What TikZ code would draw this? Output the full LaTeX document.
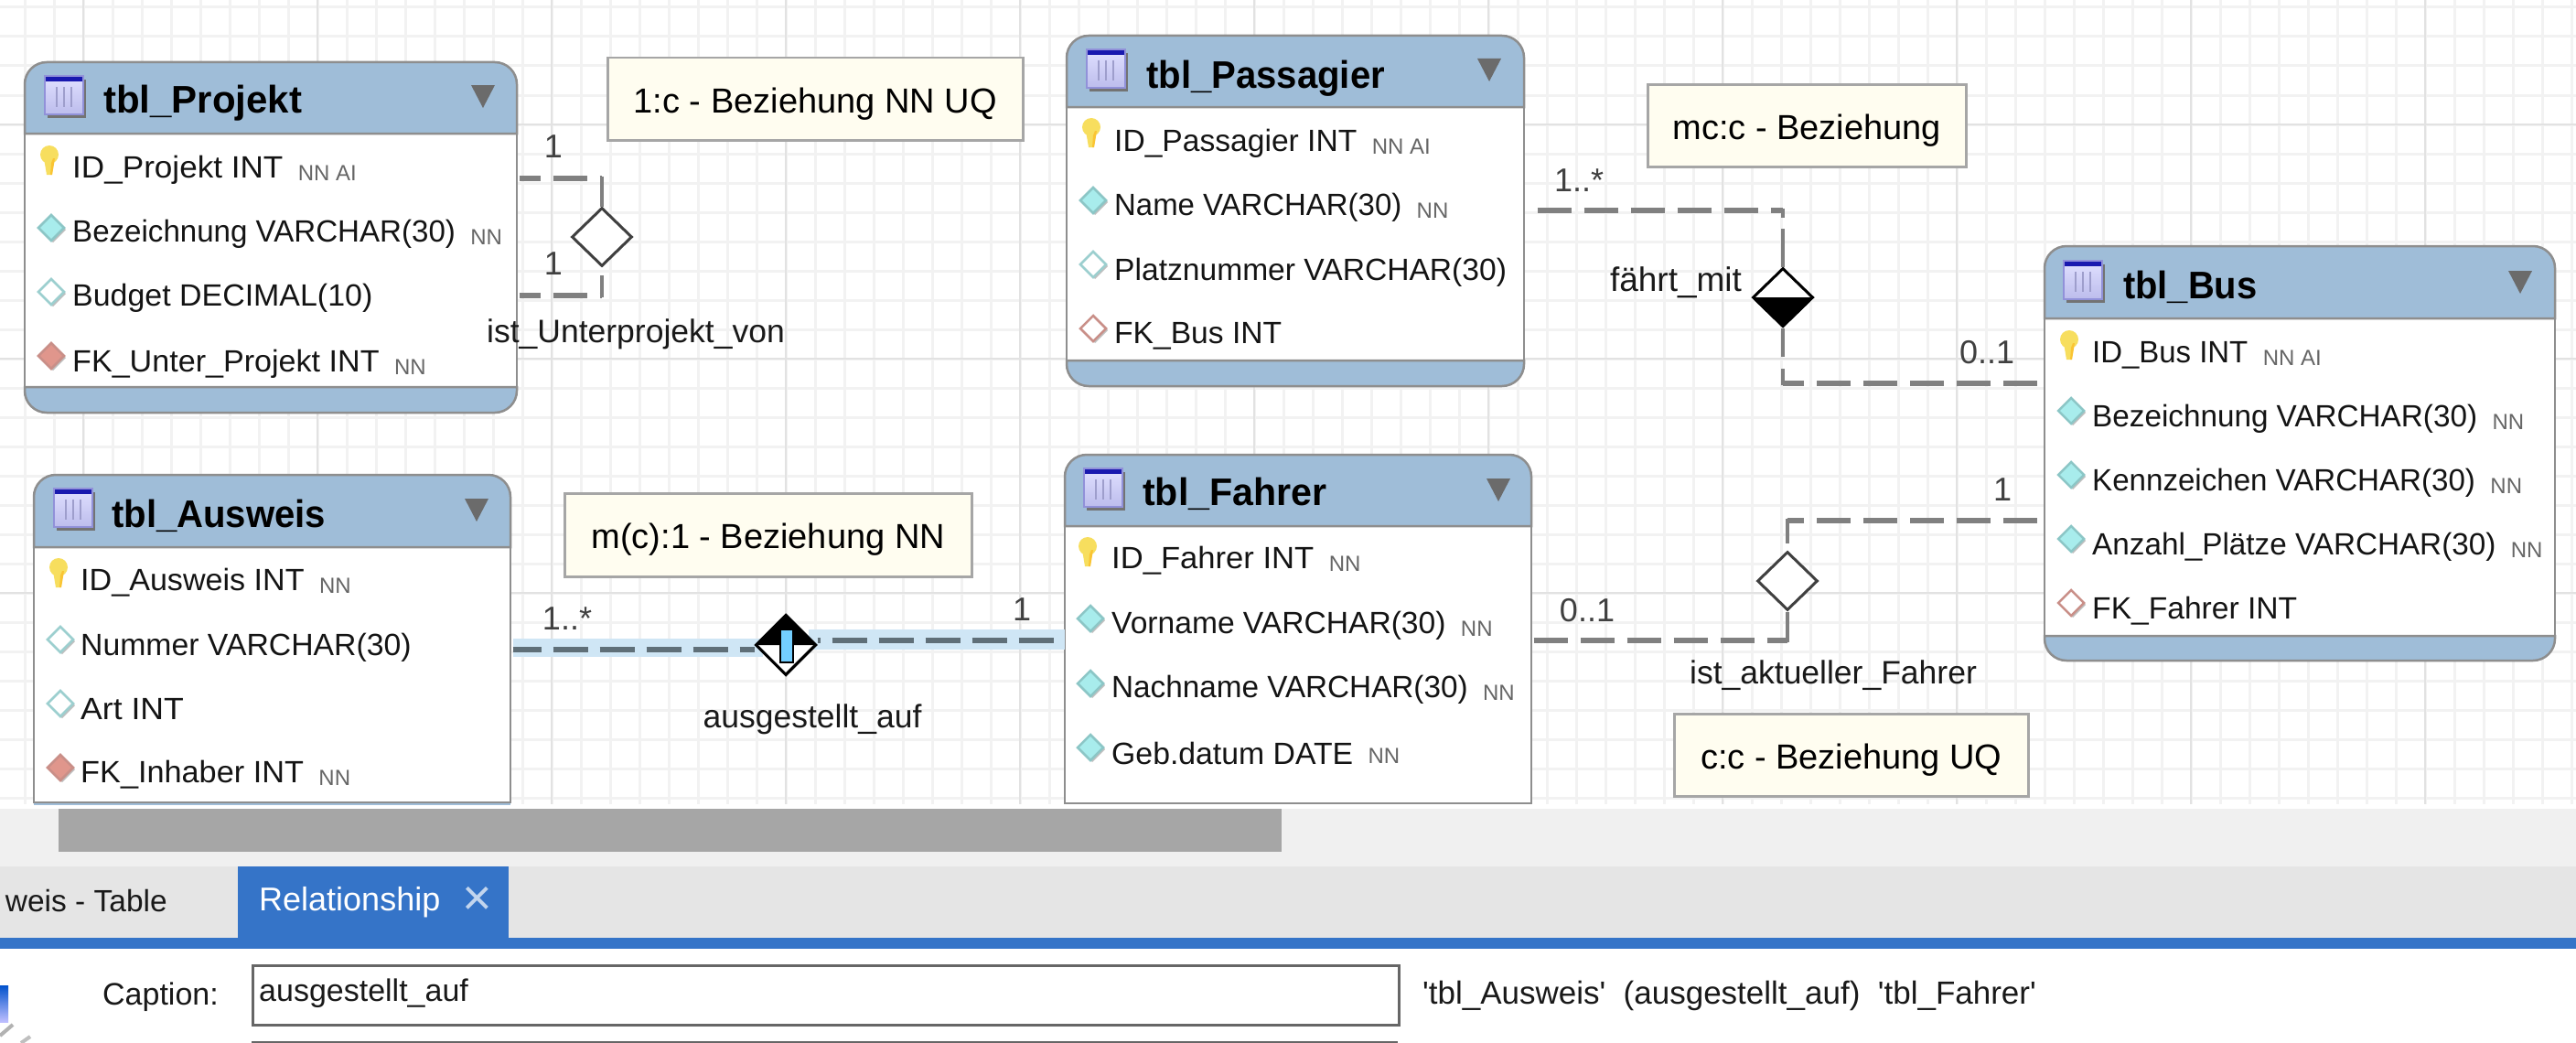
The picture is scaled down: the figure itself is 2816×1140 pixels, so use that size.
\documentclass[tikz,border=0pt]{standalone}
\usepackage{fontspec}
\setmainfont{Liberation Sans}
\newfontfamily\plainf{Liberation Sans}
\usetikzlibrary{shapes.geometric,calc}
\definecolor{hdr}{HTML}{9FBDD8}
\definecolor{edgeg}{HTML}{8E8E8E}
\definecolor{gridm}{HTML}{F2F2F2}
\definecolor{gridM}{HTML}{E2E2E2}
\definecolor{notef}{HTML}{FFFDF0}
\definecolor{relg}{HTML}{808080}
\definecolor{tabblue}{HTML}{3574C8}
\definecolor{selband}{HTML}{CFE6F5}
\definecolor{seldash}{HTML}{5F6F78}
\definecolor{cyanf}{HTML}{A8ECEC}
\definecolor{cyanb}{HTML}{8CC6C6}
\definecolor{cyanh}{HTML}{9CCFCF}
\definecolor{redf}{HTML}{E0968C}
\definecolor{redb}{HTML}{C98F88}
\definecolor{keyf}{HTML}{F7DE5E}
\newcount\rowno
\tikzset{
  x=1pt,y=-1pt,
  tblbox/.style={draw=edgeg,line width=2.5pt,fill=white,rectangle,inner sep=0pt,anchor=north west},
  rowtxt/.style={anchor=west,inner sep=0pt,font=\fontsize{33.6}{36}\selectfont,text=black!92},
  tag/.style={anchor=west,inner sep=0pt,font=\fontsize{24}{26}\selectfont,text=black!60},
  titletxt/.style={anchor=west,inner sep=0pt,font=\fontsize{42}{46}\selectfont\bfseries,text=black},
  notebox/.style={draw=black!35,line width=2.5pt,fill=notef,rectangle,inner sep=0pt,anchor=north west,font=\fontsize{38}{42}\selectfont},
  rellbl/.style={inner sep=0pt,font=\fontsize{35.5}{38}\selectfont,text=black!90},
  card/.style={inner sep=0pt,font=\fontsize{36}{38}\selectfont,text=black!75},
  rel/.style={draw=relg,line width=6pt,dash pattern=on 37pt off 14pt},
  relstub/.style={draw=relg,line width=4.5pt},
  reldia/.style={diamond,aspect=1,draw=black!75,line width=3pt,fill=white,minimum width=66pt,minimum height=64pt,inner sep=0pt},
  uitxt/.style={inner sep=0pt,font=\fontsize{34}{38}\selectfont,text=black!90},
}
\newcommand{\notetxt}[1]{\raisebox{-15pt}[0pt][0pt]{#1}}
\newcommand{\roundtop}[4]{% left top right hbottom
  \path[fill=hdr,draw=edgeg,line width=2.5pt,rounded corners=24pt] (#1,#4) -- (#1,#2) -- (#3,#2) [sharp corners] -- (#3,#4) -- cycle;
}
\newcommand{\roundbot}[4]{% left ftop right bottom
  \path[fill=hdr,draw=edgeg,line width=2.5pt,rounded corners=24pt] (#3,#2) -- (#3,#4) -- (#1,#4) [sharp corners] -- (#1,#2) -- cycle;
}
\newcommand{\tblicon}[4]{% x0 y0 x1 y1
  \fill[black!55] (#1+3,#2+4) rectangle (#3+3,#4+4);
  \shade[top color=white!88!blue,bottom color=white!78!blue!85!gray] (#1,#2) rectangle (#3,#4);
  \foreach \k in {0.3,0.5,0.7} \draw[white!70!blue!60!gray,line width=2pt] ({#1+\k*(#3-#1)},#2+12) -- ({#1+\k*(#3-#1)},#4-8);
  \fill[blue!65!black!90] (#1,#2) rectangle (#3,#2+6);
  \draw[white!60!blue!70!gray,line width=1.2pt] (#1,#2) rectangle (#3,#4);
}
\newcommand{\dropdown}[2]{% cx y0
  \fill[black!58] (#1-13,#2) -- (#1+13,#2) -- (#1,#2+25) -- cycle;
}
\newcommand{\keyicon}[2]{% cx cy
  \fill[keyf] (#1-7,#2-3) -- (#1+5,#2-3) -- (#1+2,#2+15) -- (#1-4,#2+15) -- cycle;
  \fill[keyf] (#1-1,#2-7) circle[radius=10];
  \fill[orange!70!yellow,opacity=.45] (#1+1,#2+2) -- (#1+3,#2-3) -- (#1+5,#2-3) -- (#1+2,#2+15) -- (#1,#2+15) -- cycle;
}
\newcommand{\attr}[4]{% cx cy fill border
  \fill[black!25] (#1+2,#2-16) -- (#1+16,#2-2) -- (#1+2,#2+12) -- (#1-12,#2-2) -- cycle;
  \path[fill=#3,draw=#4,line width=2.5pt] (#1,#2-18) -- (#1+14,#2-4) -- (#1,#2+10) -- (#1-14,#2-4) -- cycle;
}
\newcommand{\rowt}[5][1]{% hscale x y text tag
  \global\advance\rowno by 1
  \node[rowtxt] (row\the\rowno) at (#2,#3+3) {\scalebox{#1}[1]{#4}};
  \if\relax\detokenize{#5}\relax\else
    \node[tag,anchor=west,xshift=16pt,yshift=-3pt] (tag\the\rowno) at (row\the\rowno.east) {#5};
  \fi
}
\newcommand{\ttl}[5]{% name scale x y text
  \node[titletxt] (#1) at (#3,#4+3) {\scalebox{#2}[1]{#5}};
}
\begin{document}
\begin{tikzpicture}
\useasboundingbox (0,0) rectangle (2816,1140);
\fill[white] (0,0) rectangle (2816,1140);
% grid
\foreach \i in {0,...,87} \draw[gridm,line width=3pt] ({27+32*\i},0) -- ({27+32*\i},879);
\foreach \i in {0,...,27} \draw[gridm,line width=3pt] (0,{8+32*\i}) -- (2816,{8+32*\i});
\foreach \i in {0,...,10} \draw[gridM,line width=2pt] ({91+256*\i},0) -- ({91+256*\i},879);
\foreach \i in {0,...,2} \draw[gridM,line width=2pt] (0,{136+256*\i}) -- (2816,{136+256*\i});
% bottom UI
\fill[white] (0,879) rectangle (2816,884);
\fill[black!6] (0,884) rectangle (2816,947);
\fill[black!10] (0,947) rectangle (2816,1025);
\fill[black!35] (64,884) rectangle (1401,931);
\fill[tabblue] (0,1025) rectangle (2816,1037);
\fill[tabblue] (260,947) rectangle (556,1025);
\node[uitxt,anchor=east,font=\fontsize{33.5}{38}\selectfont] (tabwest) at (183,985) {weis - Table};
\node[uitxt,anchor=west,text=white,font=\fontsize{36}{38}\selectfont] (tabrel) at (283,986) {Relationship};
\node[uitxt,text=white!70!tabblue,font=\fontsize{56}{58}\selectfont] (tabx) at (522,985) {×};
\node[uitxt,anchor=east] (capl) at (239,1090) {Caption:};
\node[draw=black!60,line width=2.5pt,fill=white,minimum width=1253pt,minimum height=65pt,inner sep=0pt,anchor=north west] (capbox) at (275,1054) {};
\node[uitxt,anchor=west] (capt) at (283,1086) {ausgestellt\_auf};
\node[uitxt,anchor=west,font=\plainf\fontsize{35}{38}\selectfont] (capr) at (1555,1088) {'tbl\_Ausweis'\ \ (ausgestellt\_auf)\ \ 'tbl\_Fahrer'};
\draw[black!60,line width=2.5pt] (275,1139) -- (1528,1139);
% partial icon
\shade[top color=blue!60!cyan!80!black,bottom color=blue!25!white] (0,1077) rectangle (9,1117);
\draw[black!30,line width=4pt] (0,1132) -- (14,1120);
\draw[black!25,line width=4pt] (23,1140) -- (33,1133);
% notes
\node[notebox,minimum width=454pt,minimum height=90pt] (n1) at (663,62) {\notetxt{1:c - Beziehung NN UQ}};
\node[notebox,minimum width=348pt,minimum height=90pt] (n2) at (1800,91) {\notetxt{mc:c - Beziehung}};
\node[notebox,minimum width=445pt,minimum height=91pt] (n3) at (616,538) {\notetxt{m(c):1 - Beziehung NN}};
\node[notebox,minimum width=387pt,minimum height=90pt] (n4) at (1829,779) {\notetxt{c:c - Beziehung UQ}};
% tables
\node[tblbox,minimum width=538pt,minimum height=383pt,draw=none,fill=none] (projekt) at (27,68) {};
\fill[white,draw=edgeg,line width=2.5pt] (27,146) rectangle (565,423);
\roundtop{27}{68}{565}{146}
\roundbot{27}{423}{565}{451}
\node[tblbox,minimum width=500pt,minimum height=383pt,draw=none,fill=none] (passagier) at (1166,39) {};
\fill[white,draw=edgeg,line width=2.5pt] (1166,117) rectangle (1666,394);
\roundtop{1166}{39}{1666}{117}
\roundbot{1166}{394}{1666}{422}
\node[tblbox,minimum width=558pt,minimum height=453pt,draw=none,fill=none] (bus) at (2235,269) {};
\fill[white,draw=edgeg,line width=2.5pt] (2235,348) rectangle (2793,695);
\roundtop{2235}{269}{2793}{348}
\roundbot{2235}{695}{2793}{722}
\node[tblbox,minimum width=521pt,minimum height=358pt,draw=none,fill=none] (ausweis) at (37,519) {};
\fill[white,draw=edgeg,line width=2.5pt] (37,598) rectangle (558,877);
\roundtop{37}{519}{558}{598}
\fill[hdr] (37,878) rectangle (558,880);
\node[tblbox,minimum width=510pt,minimum height=381pt,draw=none,fill=none] (fahrer) at (1164,497) {};
\fill[white,draw=edgeg,line width=2.5pt] (1164,575) rectangle (1674,878);
\roundtop{1164}{497}{1674}{575}
% headers
\tblicon{49}{83}{91}{125}\dropdown{528}{93}
\ttl{t1}{1}{113}{110}{tbl\_Projekt}
\tblicon{1188}{54}{1230}{96}\dropdown{1628}{64}
\ttl{t2}{.955}{1253}{83}{tbl\_Passagier}
\tblicon{2256}{285}{2298}{327}\dropdown{2755}{296}
\ttl{t3}{.95}{2321}{311}{tbl\_Bus}
\tblicon{59}{534}{101}{576}\dropdown{521}{545}
\ttl{t4}{.955}{122}{561}{tbl\_Ausweis}
\tblicon{1185}{512}{1227}{554}\dropdown{1638}{523}
\ttl{t5}{.98}{1249}{537}{tbl\_Fahrer}
% rows Projekt
\keyicon{55}{176}\rowt[1.045]{79}{183}{ID\_Projekt INT}{NN AI}
\attr{56}{253}{cyanf}{cyanb}\rowt[.985]{79}{253}{Bezeichnung VARCHAR(30)}{NN}
\attr{56}{323}{white}{cyanh}\rowt[1.01]{79}{323}{Budget DECIMAL(10)}{}
\attr{56}{393}{redf}{redb}\rowt[1.015]{79}{395}{FK\_Unter\_Projekt INT}{NN}
% rows Passagier
\keyicon{1194}{146}\rowt{1218}{154}{ID\_Passagier INT}{NN AI}
\attr{1195}{223}{cyanf}{cyanb}\rowt[.98]{1218}{224}{Name VARCHAR(30)}{NN}
\attr{1195}{293}{white}{cyanh}\rowt{1218}{295}{Platznummer VARCHAR(30)}{}
\attr{1195}{363}{white}{redb}\rowt{1218}{364}{FK\_Bus INT}{}
% rows Bus
\keyicon{2263}{378}\rowt[.98]{2287}{385}{ID\_Bus INT}{NN AI}
\attr{2264}{453}{cyanf}{cyanb}\rowt[.99]{2287}{455}{Bezeichnung VARCHAR(30)}{NN}
\attr{2264}{523}{cyanf}{cyanb}\rowt[.985]{2287}{525}{Kennzeichen VARCHAR(30)}{NN}
\attr{2264}{593}{cyanf}{cyanb}\rowt[.99]{2287}{595}{Anzahl\_Plätze VARCHAR(30)}{NN}
\attr{2264}{663}{white}{redb}\rowt{2287}{665}{FK\_Fahrer INT}{}
% rows Ausweis
\keyicon{65}{627}\rowt[1.015]{88}{634}{ID\_Ausweis INT}{NN}
\attr{66}{703}{white}{cyanh}\rowt[1.005]{88}{705}{Nummer VARCHAR(30)}{}
\attr{66}{773}{white}{cyanh}\rowt[1.06]{88}{772}{Art INT}{}
\attr{66}{843}{redf}{redb}\rowt[1.02]{88}{844}{FK\_Inhaber INT}{NN}
% rows Fahrer
\keyicon{1190}{604}\rowt[1.03]{1215}{610}{ID\_Fahrer INT}{NN}
\attr{1192}{680}{cyanf}{cyanb}\rowt{1215}{681}{Vorname VARCHAR(30)}{NN}
\attr{1192}{751}{cyanf}{cyanb}\rowt[.99]{1215}{751}{Nachname VARCHAR(30)}{NN}
\attr{1192}{821}{cyanf}{cyanb}\rowt[1.005]{1215}{820}{Geb.datum DATE}{NN}
% relationship diamonds
\node[reldia] (d1) at (658,259) {};
\node[reldia,draw=black] (d2) at (1949,325) {};
\node[reldia] (d3) at (1954,635) {};
% connectors
\draw[rel,dash phase=14pt] (projekt.east |- 0,195) -- (d1.north |- 0,195);
\draw[relstub] (d1.north |- 0,193) -- (d1.north);
\draw[rel,dash phase=14pt] (projekt.east |- 0,323) -- (d1.south |- 0,323);
\draw[relstub] (d1.south |- 0,325) -- (d1.south |- 0,301);
\draw[rel] (passagier.east |- 0,230) ++(12,0) -- (d2.north |- 0,230);
\draw[relstub] (d2.north |- 0,228) -- (d2.north |- 0,238);
\draw[relstub] (d2.north |- 0,250) -- (d2.north);
\draw[relstub] (d2.south) -- (d2.south |- 0,390);
\draw[relstub] (d2.south |- 0,403) -- (d2.south |- 0,421);
\draw[rel] ($(bus.west |- 0,419)+(-8,0)$) -- (d2.south |- 0,419);
\draw[rel] (fahrer.east |- 0,700) -- (d3.south |- 0,700);
\draw[relstub] (d3.south) -- (d3.south |- 0,702);
\draw[rel] ($(bus.west |- 0,569)+(-8,0)$) -- (d3.north |- 0,569);
\draw[relstub] (d3.north |- 0,567) -- (d3.north |- 0,594);
% lower half of the diamond black
\fill[black] (d2.west) -- (d2.east) -- (d2.south) -- cycle;
% selected relationship
\coordinate (d4c) at (859,705);
\fill[selband] (ausweis.east |- 0,698) rectangle (834,718);
\fill[selband] (884,688) rectangle (fahrer.west |- 0,710);
\node[reldia,draw=black,minimum height=66pt] (d4) at (d4c) {};
\draw[seldash,line width=5.5pt,dash pattern=on 38pt off 13pt,dash phase=7pt] (ausweis.east |- 0,710) -- (d4.west |- 0,710);
\draw[seldash,line width=5.5pt,dash pattern=on 38pt off 13pt,dash phase=35pt] (d4.east |- 0,700) -- (fahrer.west |- 0,700);
\fill[black] (d4.west) -- (d4.north) -- (d4.east) -- cycle;
\node[reldia,draw=black,fill=none,minimum height=66pt] (d4b) at (d4c) {};
\fill[black] (852,687) rectangle (868,725);
\fill[blue!35!cyan!55!white] (854,689) rectangle (866,723);
% labels
\node[card] (c1) at (605,160) {1};
\node[card] (c2) at (605,288) {1};
\node[rellbl] (l1) at (695,365) {ist\_Unterprojekt\_von};
\node[card] (c3) at (1726,197) {1..*};
\node[rellbl,font=\fontsize{37}{38}\selectfont] (l2) at (1832,309) {fährt\_mit};
\node[card] (c4) at (2172,385) {0..1};
\node[card] (c5) at (2189,535) {1};
\node[card] (c6) at (1735,667) {0..1};
\node[rellbl] (l3) at (2004,738) {ist\_aktueller\_Fahrer};
\node[card] (c7) at (620,676) {1..*};
\node[card] (c8) at (1117,666) {1};
\node[rellbl] (l4) at (888,786) {ausgestellt\_auf};
\end{tikzpicture}
\end{document}
